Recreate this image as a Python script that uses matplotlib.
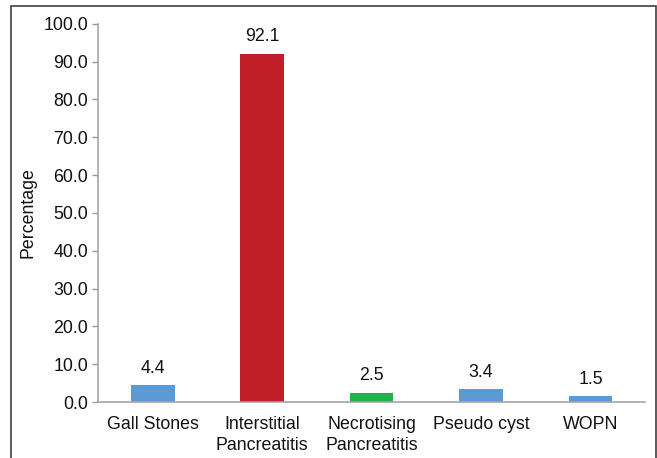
import matplotlib.pyplot as plt
from matplotlib.patches import Rectangle

plt.rcParams['font.family'] = ['Liberation Sans', 'DejaVu Sans']

categories = ["Gall Stones", "Interstitial\nPancreatitis", "Necrotising\nPancreatitis",
              "Pseudo cyst", "WOPN"]
percent = [4.4, 92.1, 2.5, 3.4, 1.5]
colors = ["#5B9BD5", "#C01F27", "#22B04B", "#5B9BD5", "#5B9BD5"]
yticks = [0, 10, 20, 30, 40, 50, 60, 70, 80, 90, 100]

fs = 12.8

fig = plt.figure(figsize=(6.57, 4.58), dpi=100)
ax = fig.add_axes([0.149, 0.122, 0.833, 0.826])

x = range(len(categories))
bars = ax.bar(x, percent, width=0.4, color=colors)

# value labels above each bar
for b, v in zip(bars, percent):
    ax.annotate(f"{v:.1f}", (b.get_x() + b.get_width() / 2, v),
                xytext=(0, 6), textcoords="offset points",
                ha="center", va="bottom", fontsize=fs, color="#111111")

ax.set_xlim(-0.5, len(categories) - 0.5)
ax.set_ylim(0, 100)
ax.set_yticks(yticks)
ax.set_yticklabels([f"{t:.1f}" for t in yticks])
ax.set_xticks(list(x))
ax.set_xticklabels(categories, linespacing=1.3)
ax.tick_params(axis="y", labelsize=fs, colors="#999999", labelcolor="#111111",
               length=4, width=1, direction="out", pad=3)
ax.tick_params(axis="x", labelsize=fs, labelcolor="#111111", length=0, pad=10)
ax.set_ylabel("Percentage", fontsize=fs, color="#111111", labelpad=5)

for side in ["top", "right"]:
    ax.spines[side].set_visible(False)
for side in ["left", "bottom"]:
    ax.spines[side].set_color("#A6A6A6")
    ax.spines[side].set_linewidth(1.2)

# outer frame around the chart
fig.patches.append(Rectangle((11 / 657, -0.01), 645 / 657, 1 - 6 / 458 + 0.01,
                             transform=fig.transFigure, fill=False,
                             edgecolor="#404040", linewidth=1.2))

fig.savefig("out.png", dpi=100)
